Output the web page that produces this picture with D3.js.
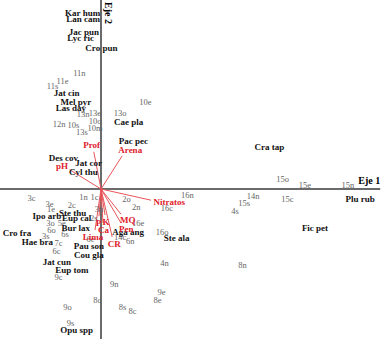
<!DOCTYPE html>
<html>
<head>
<meta charset="utf-8">
<script src="https://cdn.jsdelivr.net/npm/d3@7"></script>
<style>
  body { margin: 0; background: #fff; }
  text { font-family: "Liberation Serif", "DejaVu Serif", serif; }
</style>
</head>
<body>
<script>
var w = 391;
var h = 342;

// especies (etiquetas en negrita)
var species = ["Kar hum", "Lan cam", "Jac pun", "Lyc ric", "Cro pun", "Jat cin", "Mel pyr", "Las day",
    "Cae pla", "Pac pec", "Des cov", "Jat cor", "Cyl thu", "Cra tap", "Plu rub", "Fic pet",
    "Ste thu", "Ipo arb", "Eup cal", "Bur lax", "Cro fra", "Hae bra", "Pau son", "Cou gla",
    "Jat cun", "Eup tom", "Aga ang", "Ste ala", "Opu spp"];
var speciesX = [-0.46, -0.45, -0.43, -0.51, 0.01, -0.86, -0.63, -0.75,
    0.69, 0.81, -0.94, -0.31, -0.44, 4.21, 6.48, 5.35,
    -0.71, -1.35, -0.61, -0.63, -2.10, -1.59, -0.30, -0.30,
    -1.10, -0.73, 0.68, 1.89, -0.61];
var speciesY = [4.40, 4.25, 3.93, 3.78, 3.53, 2.40, 2.18, 2.03,
    1.68, 1.20, 0.78, 0.65, 0.43, 1.05, -0.25, -0.98,
    -0.60, -0.68, -0.73, -0.98, -1.10, -1.33, -1.43, -1.65,
    -1.83, -2.03, -1.08, -1.23, -3.53];

// sitios
var sites = ["11n", "11e", "11s", "13n", "13e", "13o", "10e", "12n", "10s", "13s", "10o", "10m",
    "15o", "15e", "15n", "3c", "1n", "1c", "16n", "2o", "2n", "16c", "14n", "15s", "15c", "4s",
    "3e", "1e", "2c", "3n", "2s", "3o", "5e", "6o", "3s", "6s", "7c", "6c", "6e", "9c",
    "16e", "14c", "6n", "16o", "4n", "8n", "9n", "8o", "9o", "9s", "9e", "8e", "8s", "8c"];
var sitesX = [-0.54, -0.96, -1.21, -0.45, -0.15, 0.48, 1.11, -1.05, -0.69, -0.48, -0.15, -0.15,
    4.54, 5.10, 6.17, -1.74, -0.44, -0.16, 2.16, 0.64, 0.88, 1.65, 3.80, 3.58, 4.66, 3.35,
    -1.29, -1.25, -0.73, -0.05, -0.18, -1.26, -0.98, -1.24, -1.38, -0.90, -1.06, -1.11, -0.26, -1.06,
    0.93, 0.48, 0.73, 1.53, 1.59, 3.54, 0.33, -0.09, -0.84, -0.76, 1.51, 1.41, 0.54, 0.79];
var sitesY = [2.90, 2.70, 2.58, 1.88, 1.90, 1.90, 2.18, 1.63, 1.60, 1.43, 1.70, 1.53,
    0.25, 0.10, 0.10, -0.23, -0.20, -0.20, -0.15, -0.25, -0.45, -0.48, -0.18, -0.35, -0.25, -0.55,
    -0.38, -0.50, -0.40, -0.50, -0.73, -0.85, -0.85, -1.03, -1.18, -1.13, -1.35, -1.55, -1.25, -2.20,
    -0.85, -1.20, -1.30, -1.08, -1.85, -1.90, -2.38, -2.78, -2.95, -3.35, -2.58, -2.78, -2.95, -3.05];

// variables ambientales (vectores)
var envVars = ["Prof", "Arena", "pH", "Nitratos", "MQ", "Pen", "CR", "Lima", "Ca", "K", "P"];
var envX = [-0.18, 0.53, -0.78, 1.25, 0.50, 0.50, 0.28, -0.15, 0.05, 0.10, -0.05];
var envY = [0.93, 0.83, 0.48, -0.28, -0.63, -0.85, -1.20, -1.03, -0.85, -0.65, -0.68];

var axisNames = ["Eje 1", "Eje 2"];

var xScale = d3.scaleLinear().domain([-2.5, 7]).range([1, 381]);
var yScale = d3.scaleLinear().domain([-3.8, 4.7]).range([341, 1]);

var svg = d3.select("body")
    .append("svg")
    .attr("width", w)
    .attr("height", h);

// ejes
svg.append("line")
    .attr("x1", 0).attr("x2", xScale(6.98))
    .attr("y1", yScale(0)).attr("y2", yScale(0))
    .attr("stroke", "#3a3a3a").attr("stroke-width", 1.5);
svg.append("line")
    .attr("x1", xScale(0)).attr("x2", xScale(0))
    .attr("y1", 0).attr("y2", h - 3)
    .attr("stroke", "#3a3a3a").attr("stroke-width", 1.5);

svg.append("text")
    .attr("x", xScale(6.98))
    .attr("y", yScale(0) - 5)
    .attr("text-anchor", "end")
    .attr("font-size", 10)
    .attr("font-weight", "bold")
    .text(axisNames[0]);
svg.append("text")
    .attr("transform", "translate(" + (xScale(0) + 4) + ",2) rotate(90)")
    .attr("font-size", 10)
    .attr("font-weight", "bold")
    .text(axisNames[1]);

// vectores
var env = envVars.map((d, i) => ({ name: d, x: envX[i], y: envY[i] }));
svg.selectAll("line.env")
    .data(env)
    .enter()
    .append("line")
    .attr("class", "env")
    .attr("x1", xScale(0)).attr("y1", yScale(0))
    .attr("x2", d => xScale(d.x)).attr("y2", d => yScale(d.y))
    .attr("stroke", "#e8555a")
    .attr("stroke-width", 1);

// sitios
svg.selectAll("text.site")
    .data(sites)
    .enter()
    .append("text")
    .attr("class", "site")
    .attr("x", (d, i) => xScale(sitesX[i]))
    .attr("y", (d, i) => yScale(sitesY[i]))
    .attr("text-anchor", "middle")
    .attr("dominant-baseline", "central")
    .attr("font-size", 8.5)
    .attr("fill", "#666")
    .text(d => d);

// especies
svg.selectAll("text.sp")
    .data(species)
    .enter()
    .append("text")
    .attr("class", "sp")
    .attr("x", (d, i) => xScale(speciesX[i]))
    .attr("y", (d, i) => yScale(speciesY[i]))
    .attr("text-anchor", "middle")
    .attr("dominant-baseline", "central")
    .attr("font-size", 9)
    .attr("font-weight", "bold")
    .attr("fill", "#111")
    .text(d => d);

// etiquetas de vectores
svg.selectAll("text.env")
    .data(env)
    .enter()
    .append("text")
    .attr("class", "env")
    .attr("text-anchor", "middle")
    .attr("dominant-baseline", "central")
    .attr("font-size", 9)
    .attr("font-weight", "bold")
    .attr("fill", "#e0202a")
    .text(d => d.name)
    .each(function(d) {
        var px = xScale(d.x) - xScale(0);
        var py = yScale(d.y) - yScale(0);
        var len = Math.sqrt(px * px + py * py);
        var ux = px / len, uy = py / len;
        var hw = this.getComputedTextLength() / 2;
        d3.select(this)
            .attr("x", xScale(d.x) + ux * (hw + 3))
            .attr("y", yScale(d.y) + uy * 7);
    });
</script>
</body>
</html>
